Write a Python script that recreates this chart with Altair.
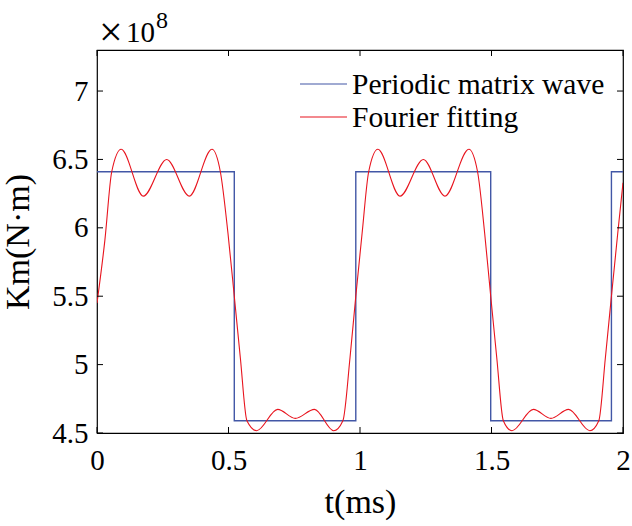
import altair as alt
import pandas as pd

# ---- data (values in units of 1e8 N·m, time in ms) ----
t_square = [0.0, 0.522, 0.984, 1.497, 1.956, 2.0]
k_square = [6.41, 4.59, 6.41, 4.59, 6.41, 6.41]

t_fourier = [0.000, 0.030, 0.056, 0.092, 0.176, 0.265, 0.351, 0.437,
             0.469, 0.498, 0.522, 0.545, 0.570, 0.607, 0.687, 0.754,
             0.827, 0.900, 0.935, 0.962, 0.984, 1.008, 1.033, 1.068,
             1.152, 1.241, 1.323, 1.414, 1.447, 1.474, 1.497, 1.520,
             1.545, 1.578, 1.659, 1.726, 1.793, 1.874, 1.908, 1.933,
             1.956, 1.980, 2.000]
k_fourier = [5.45, 5.91, 6.41, 6.574, 6.232, 6.50, 6.232, 6.574,
             6.41, 5.96, 5.50, 5.05, 4.59, 4.517, 4.673, 4.607,
             4.673, 4.517, 4.59, 5.05, 5.50, 5.96, 6.41, 6.574,
             6.232, 6.50, 6.232, 6.574, 6.41, 5.96, 5.50, 5.05,
             4.59, 4.517, 4.673, 4.607, 4.673, 4.517, 4.59, 5.05,
             5.50, 5.96, 6.33]

x_ticks = [0, 0.5, 1, 1.5, 2]
y_ticks = [4.5, 5, 5.5, 6, 6.5, 7]

series_names = ["Periodic matrix wave", "Fourier fitting"]
series_colors = ["#4257A6", "#E8141E"]

FONT = "Liberation Serif"
W, H = 526, 383

df_sq = pd.DataFrame({"t": t_square, "k": k_square})
df_fo = pd.DataFrame({"t": t_fourier, "k": k_fourier})

xs = alt.Scale(domain=[0, 2], nice=False, zero=False)
ys = alt.Scale(domain=[4.5, 7.3], nice=False, zero=False)

x_axis = alt.Axis(values=x_ticks, format="~g", tickSize=0, domain=False, grid=False,
                  labelFlush=False, labelFont=FONT, labelFontSize=29, labelColor="black",
                  labelPadding=13,
                  title="t(ms)", titleFont=FONT, titleFontSize=34, titleFontWeight="normal",
                  titleColor="black", titlePadding=10)
y_axis = alt.Axis(values=y_ticks, format="~g", tickSize=0, domain=False, grid=False,
                  labelFlush=False, labelFont=FONT, labelFontSize=29, labelColor="black",
                  labelPadding=9,
                  title="Km(N·m)", titleFont=FONT, titleFontSize=34, titleFontWeight="normal",
                  titleColor="black", titlePadding=16)

X = alt.X("t:Q", scale=xs, axis=x_axis)
Y = alt.Y("k:Q", scale=ys, axis=y_axis)

square = alt.Chart(df_sq).mark_line(interpolate="step-after", color=series_colors[0],
                                    strokeWidth=1.4, clip=True).encode(x=X, y=Y)

fourier = alt.Chart(df_fo).mark_line(interpolate="monotone", color=series_colors[1],
                                     strokeWidth=1.1, clip=True).encode(x=X, y=Y)

# inward ticks on all four sides
df_xt = pd.DataFrame({"t": x_ticks})
df_yt = pd.DataFrame({"k": y_ticks})
tick_style = dict(color="black", strokeWidth=1)
xt_bottom = alt.Chart(df_xt).mark_rule(**tick_style).encode(
    x=X, y=alt.value(H), y2=alt.value(H - 6))
xt_top = alt.Chart(df_xt).mark_rule(**tick_style).encode(
    x=X, y=alt.value(0), y2=alt.value(6))
yt_left = alt.Chart(df_yt).mark_rule(**tick_style).encode(
    y=Y, x=alt.value(0), x2=alt.value(6))
yt_right = alt.Chart(df_yt).mark_rule(**tick_style).encode(
    y=Y, x=alt.value(W), x2=alt.value(W - 6))

# exponent label "×10^8"
exp_times = alt.Chart(pd.DataFrame({"s": ["×"]})).mark_text(
    font=FONT, fontSize=42, align="left", baseline="alphabetic", color="black").encode(
    text="s:N", x=alt.value(2), y=alt.value(-4))
exp_base = alt.Chart(pd.DataFrame({"s": ["10"]})).mark_text(
    font=FONT, fontSize=29, align="left", baseline="alphabetic", color="black").encode(
    text="s:N", x=alt.value(29), y=alt.value(-8))
exp_pow = alt.Chart(pd.DataFrame({"s": ["8"]})).mark_text(
    font=FONT, fontSize=24, align="left", baseline="alphabetic", color="black").encode(
    text="s:N", x=alt.value(59), y=alt.value(-22))

# legend (manual)
legend_layers = []
for i, (name, col) in enumerate(zip(series_names, series_colors)):
    yy = 34 + 33 * i
    legend_layers.append(
        alt.Chart(pd.DataFrame({"n": [name]})).mark_rule(color=col, strokeWidth=1.2).encode(
            x=alt.value(203), x2=alt.value(250), y=alt.value(yy)))
    legend_layers.append(
        alt.Chart(pd.DataFrame({"n": [name]})).mark_text(
            font=FONT, fontSize=29.5, align="left", baseline="middle", color="black").encode(
            text="n:N", x=alt.value(255), y=alt.value(yy + 1)))

chart = alt.layer(square, fourier, xt_bottom, xt_top, yt_left, yt_right,
                  exp_times, exp_base, exp_pow, *legend_layers).properties(
    width=W, height=H,
    padding={"left": 97, "top": 50, "right": 9, "bottom": 93},
    autosize=alt.AutoSizeParams(type="none"),
    background="white",
).configure_view(stroke="black", strokeWidth=1.2)

chart.save("out.html", embed_options={"renderer": "svg", "actions": False})
